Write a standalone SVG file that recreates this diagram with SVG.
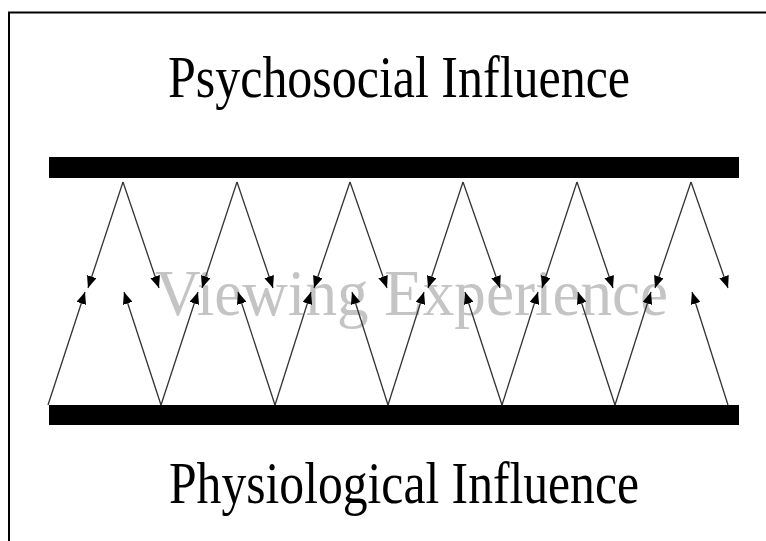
<svg xmlns="http://www.w3.org/2000/svg" width="766" height="541" viewBox="0 0 766 541">
<style>
.title{font-family:"Liberation Serif","Times New Roman",serif;font-size:60px;fill:#000}
.mid{font-family:"Liberation Serif","Times New Roman",serif;font-size:65px;fill:#c4c4c4}
.bar{fill:#000}
.arr{stroke:#333;stroke-width:1.3;fill:none;marker-end:url(#ah)}
.frame{stroke:#000;stroke-width:2;fill:none}
</style>
<defs>
<marker id="ah" markerUnits="userSpaceOnUse" markerWidth="13" markerHeight="10" refX="12" refY="5" orient="auto">
<path d="M0,0 L12,5 L0,10 Z" fill="#000"/>
</marker>
</defs>
<rect width="766" height="541" fill="#fff"/>
<path class="frame" d="M9,541 V12.5 H766"/>
<g id="viewing-experience">
<text class="mid" x="155" y="315" textLength="513" lengthAdjust="spacingAndGlyphs">Viewing Experience</text>
</g>
<g id="psychosocial">
<rect class="bar" x="49" y="157" width="690" height="21"/>
<text class="title" x="168" y="97" textLength="462" lengthAdjust="spacingAndGlyphs">Psychosocial Influence</text>
</g>
<g id="physiological">
<rect class="bar" x="49" y="405" width="690" height="20"/>
<text class="title" x="169" y="503" textLength="470" lengthAdjust="spacingAndGlyphs">Physiological Influence</text>
</g>
<g id="connectors">
<line class="arr" x1="123" y1="182" x2="88" y2="288"/>
<line class="arr" x1="123" y1="182" x2="159" y2="288"/>
<line class="arr" x1="237" y1="182" x2="202" y2="288"/>
<line class="arr" x1="237" y1="182" x2="273" y2="288"/>
<line class="arr" x1="350" y1="182" x2="314" y2="288"/>
<line class="arr" x1="350" y1="182" x2="387" y2="288"/>
<line class="arr" x1="463" y1="182" x2="428" y2="288"/>
<line class="arr" x1="463" y1="182" x2="500" y2="288"/>
<line class="arr" x1="577" y1="182" x2="542" y2="288"/>
<line class="arr" x1="577" y1="182" x2="613" y2="288"/>
<line class="arr" x1="691" y1="182" x2="655" y2="288"/>
<line class="arr" x1="691" y1="182" x2="728" y2="288"/>
<line class="arr" x1="48" y1="405" x2="85" y2="292"/>
<line class="arr" x1="161" y1="405" x2="124" y2="292"/>
<line class="arr" x1="161" y1="405" x2="198" y2="292"/>
<line class="arr" x1="275" y1="405" x2="238" y2="292"/>
<line class="arr" x1="275" y1="405" x2="311" y2="292"/>
<line class="arr" x1="388" y1="405" x2="352" y2="292"/>
<line class="arr" x1="388" y1="405" x2="424" y2="292"/>
<line class="arr" x1="502" y1="405" x2="465" y2="292"/>
<line class="arr" x1="502" y1="405" x2="538" y2="292"/>
<line class="arr" x1="615" y1="405" x2="578" y2="292"/>
<line class="arr" x1="615" y1="405" x2="651" y2="292"/>
<line class="arr" x1="728" y1="405" x2="692" y2="292"/>
</g>
</svg>
